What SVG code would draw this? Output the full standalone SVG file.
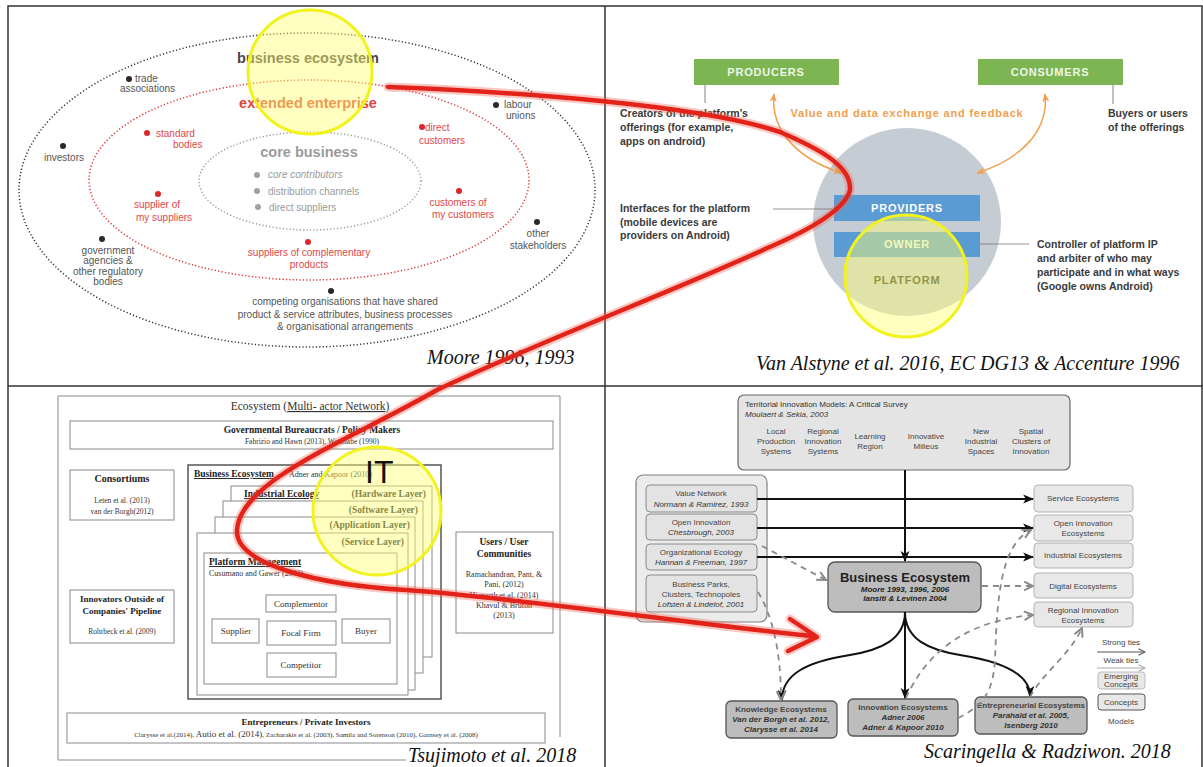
<svg xmlns="http://www.w3.org/2000/svg" width="1203" height="767" viewBox="0 0 1203 767">
<defs>
<style>
.frame{fill:none;stroke:#333;stroke-width:1.5}
.sans{font-family:'Liberation Sans',Arial,sans-serif}
.serif{font-family:'Liberation Serif','Times New Roman',serif}
.cap{font-family:'Liberation Serif','Times New Roman',serif;font-style:italic;font-size:20px;fill:#111}
.tlh{font-family:'Liberation Sans',Arial,sans-serif;font-weight:bold;font-size:14.5px;text-anchor:middle}
.tk{font-family:'Liberation Sans',Arial,sans-serif;font-size:10px;fill:#555}
.tr{font-family:'Liberation Sans',Arial,sans-serif;font-size:10px;fill:#e0474a}
.tg{font-family:'Liberation Sans',Arial,sans-serif;font-size:10px;fill:#9a9a9a}
.m{text-anchor:middle}
.e{text-anchor:end}
.dk{fill:#2e2628}
.dr{fill:#e0262b}
.dg{fill:#a0a0a0}
.trt{font-family:'Liberation Sans',Arial,sans-serif;font-weight:bold;font-size:10.5px;fill:#3a3a3a}
.bar{font-family:'Liberation Sans',Arial,sans-serif;font-weight:bold;font-size:11px;text-anchor:middle;letter-spacing:0.8px}
.bx{fill:#fff;stroke:#8a8a8a;stroke-width:1}
.bl{font-family:'Liberation Serif','Times New Roman',serif;fill:#333}
.blb{font-family:'Liberation Serif','Times New Roman',serif;fill:#222;font-weight:bold}
.br{font-family:'Liberation Sans',Arial,sans-serif;font-size:8px;fill:#444;text-anchor:middle}
.bri{font-family:'Liberation Sans',Arial,sans-serif;font-size:8px;fill:#333;font-style:italic;text-anchor:middle}
.lbox{fill:#e3e3e3;stroke:#8a8a8a;stroke-width:1}
.rbox{fill:#e8e8e8;stroke:#b2b2b2;stroke-width:1}
.dbox{fill:#bdbdbd;stroke:#555;stroke-width:1.3}
.strong{fill:none;stroke:#111;stroke-width:2}
.weak{fill:none;stroke:#8a8a8a;stroke-width:1.8;stroke-dasharray:6 5}
.yel{fill:#ffff70;fill-opacity:0.45;stroke:#f2f21e;stroke-width:3}
.orange{fill:none;stroke:#f0a04c;stroke-width:1.5}
</style>
<marker id="ab" viewBox="0 0 10 10" refX="9" refY="5" markerWidth="11" markerHeight="11" markerUnits="userSpaceOnUse" orient="auto"><path d="M0,1 L10,5 L0,9 L2.5,5z" fill="#111"/></marker>
<marker id="ag" viewBox="0 0 10 10" refX="9" refY="5" markerWidth="11" markerHeight="11" markerUnits="userSpaceOnUse" orient="auto"><path d="M1,1 L9,5 L1,9" fill="none" stroke="#8a8a8a" stroke-width="1.8"/></marker>
<marker id="ao" viewBox="0 0 10 10" refX="9" refY="5" markerWidth="9" markerHeight="9" markerUnits="userSpaceOnUse" orient="auto-start-reverse"><path d="M0,1 L10,5 L0,9 L3,5z" fill="#f0a04c"/></marker>
<marker id="al" viewBox="0 0 10 10" refX="9" refY="5" markerWidth="8" markerHeight="8" markerUnits="userSpaceOnUse" orient="auto"><path d="M1,1 L9,5 L1,9" fill="none" stroke="#555" stroke-width="1.3"/></marker>
<marker id="alw" viewBox="0 0 10 10" refX="9" refY="5" markerWidth="8" markerHeight="8" markerUnits="userSpaceOnUse" orient="auto"><path d="M1,1 L9,5 L1,9" fill="none" stroke="#aaa" stroke-width="1.3"/></marker>
</defs>
<rect width="1203" height="767" fill="#fff"/>

<g id="frame">
<path class="frame" d="M8,767 V6 H1202 V767 M605,6 V767 M8,386 H1203"/>
</g>

<!-- ===== Top-left: Moore ===== -->
<g id="moore-ellipses">
<ellipse cx="307" cy="190" rx="288" ry="157" fill="none" stroke="#333" stroke-width="1.5" stroke-dasharray="1.2 2.2"/>
<ellipse cx="309" cy="180" rx="220" ry="100" fill="none" stroke="#e03030" stroke-width="1.5" stroke-dasharray="1.2 2.2"/>
<ellipse cx="310" cy="181" rx="111" ry="49" fill="none" stroke="#999" stroke-width="1.5" stroke-dasharray="1.2 2.2"/>
<text class="tlh" x="308" y="63" fill="#4d4546">business ecosystem</text>
<text class="tlh" x="308" y="108" fill="#e2453a">extended enterprise</text>
<text class="tlh" x="309" y="157" fill="#9a9a9a">core business</text>
</g>
<g id="trade-associations"><circle class="dk" cx="129" cy="79" r="3"/><text class="tk" x="135" y="82">trade</text><text class="tk" x="120" y="92">associations</text></g>
<g id="labour-unions"><circle class="dk" cx="496" cy="105" r="3"/><text class="tk" x="504" y="108">labour</text><text class="tk" x="506" y="119">unions</text></g>
<g id="standard-bodies"><circle class="dr" cx="147" cy="133" r="3"/><text class="tr" x="156" y="137">standard</text><text class="tr" x="173" y="148">bodies</text></g>
<g id="direct-customers"><circle class="dr" cx="422" cy="127" r="3"/><text class="tr" x="425" y="131">direct</text><text class="tr" x="419" y="144">customers</text></g>
<g id="investors"><circle class="dk" cx="63" cy="146" r="3"/><text class="tk m" x="64" y="161">investors</text></g>
<g id="core-items">
<circle class="dg" cx="257" cy="175" r="3"/><text class="tg" x="268" y="178" font-style="italic">core contributors</text>
<circle class="dg" cx="257" cy="191" r="3"/><text class="tg" x="268" y="195">distribution channels</text>
<circle class="dg" cx="258" cy="207" r="3"/><text class="tg" x="269" y="211">direct suppliers</text>
</g>
<g id="supplier-of-my-suppliers"><circle class="dr" cx="158" cy="194" r="3"/><text class="tr m" x="157" y="208">supplier of</text><text class="tr m" x="164" y="221">my suppliers</text></g>
<g id="customers-of-my-customers"><circle class="dr" cx="459" cy="191" r="3"/><text class="tr m" x="458" y="206">customers of</text><text class="tr m" x="463" y="218">my customers</text></g>
<g id="other-stakeholders"><circle class="dk" cx="537" cy="222" r="3"/><text class="tk m" x="538" y="237">other</text><text class="tk m" x="538" y="249">stakeholders</text></g>
<g id="government"><circle class="dk" cx="102" cy="239" r="3"/><text class="tk m" x="108" y="254">government</text><text class="tk m" x="108" y="264">agencies &amp;</text><text class="tk m" x="108" y="275">other regulatory</text><text class="tk m" x="108" y="285">bodies</text></g>
<g id="complementary"><circle class="dr" cx="308" cy="242" r="3"/><text class="tr m" x="309" y="256">suppliers of complementary</text><text class="tr m" x="309" y="268">products</text></g>
<g id="competing"><circle class="dk" cx="331" cy="291" r="3"/><text class="tk m" x="345" y="305">competing organisations that have shared</text><text class="tk m" x="345" y="318">product &amp; service attributes, business processes</text><text class="tk m" x="345" y="330">&amp; organisational arrangements</text></g>
<g id="moore-caption"><text class="cap" x="427" y="364">Moore 1996, 1993</text></g>
<g id="hl-tl"><circle class="yel" cx="310" cy="72" r="62"/></g>

<!-- ===== Top-right: platform ===== -->
<g id="producers"><rect x="694" y="59" width="145" height="26" fill="#7db553"/><text class="bar" x="766" y="76" fill="#eef5e6">PRODUCERS</text></g>
<g id="consumers"><rect x="978" y="59" width="145" height="26" fill="#7db553"/><text class="bar" x="1050" y="76" fill="#eef5e6">CONSUMERS</text></g>
<g id="creators-text"><text class="trt" x="620" y="117">Creators of the platform’s</text><text class="trt" x="620" y="131">offerings (for example,</text><text class="trt" x="620" y="145">apps on android)</text></g>
<g id="value-text"><text class="bar" x="907" y="117" fill="#f0a04c" letter-spacing="0">Value and data exchange and feedback</text></g>
<g id="buyers-text"><text class="trt" x="1108" y="117">Buyers or users</text><text class="trt" x="1108" y="131">of the offerings</text></g>
<g id="platform-circle"><circle cx="907" cy="222" r="94" fill="#c5ccd4"/></g>
<g id="providers"><rect x="834" y="195" width="146" height="26" fill="#5b9bd3"/><text class="bar" x="907" y="212" fill="#fff">PROVIDERS</text></g>
<g id="owner"><rect x="834" y="232" width="146" height="25" fill="#5b9bd3"/><text class="bar" x="907" y="248" fill="#e8f0f0">OWNER</text></g>
<g id="platform"><text class="bar" x="907" y="284" fill="#3a3a20" font-size="11.5">PLATFORM</text></g>
<g id="interfaces-text"><text class="trt" x="620" y="212">Interfaces for the platform</text><text class="trt" x="620" y="226">(mobile devices are</text><text class="trt" x="620" y="239">providers on Android)</text></g>
<g id="controller-text"><text class="trt" x="1037" y="248">Controller of platform IP</text><text class="trt" x="1037" y="262">and arbiter of who may</text><text class="trt" x="1037" y="276">participate and in what ways</text><text class="trt" x="1037" y="290">(Google owns Android)</text></g>
<g id="va-caption"><text class="cap" x="756" y="370">Van Alstyne et al. 2016, EC DG13 &amp; Accenture 1996</text></g>
<g id="hl-tr"><circle class="yel" cx="906" cy="276" r="61"/></g>

<!-- ===== Bottom-left: Tsujimoto ===== -->
<g id="ecosystem-frame">
<path d="M560,737 V396 H58 V760 H406" fill="none" stroke="#8a8a8a" stroke-width="1"/>
<text class="bl m" x="310" y="410" font-size="11.5">Ecosystem (<tspan text-decoration="underline">Multi- actor Network</tspan>)</text>
</g>
<g id="governmental"><rect class="bx" x="70" y="421" width="483" height="28"/><text class="blb m" x="312" y="433" font-size="9.5">Governmental Bureaucrats / Policy Makers</text><text class="bl m" x="312" y="444" font-size="7.5">Fabrizio and Hawn (2013), Watanabe (1990)</text></g>
<g id="consortiums"><rect class="bx" x="70" y="470" width="104" height="50"/><text class="blb m" x="122" y="482" font-size="10">Consortiums</text><text class="bl m" x="122" y="503" font-size="7.5">Leten et al. (2013)</text><text class="bl m" x="122" y="514" font-size="7.5">van der Borgh(2012)</text></g>
<g id="business-ecosystem-bl"><rect x="188" y="465" width="253" height="234" fill="#fff" stroke="#555" stroke-width="1.5"/><text class="blb" x="194" y="477" font-size="9.5" text-decoration="underline">Business Ecosystem</text><text class="bl" x="289" y="477" font-size="8">Adner and Kapoor (2010)</text></g>
<g id="industrial-ecology"><rect class="bx" x="231" y="486" width="201" height="171"/><text class="blb" x="244" y="497" font-size="9.5" text-decoration="underline">Industrial Ecology</text><text class="blb e" x="426" y="497" font-size="9.5">(Hardware Layer)</text></g>
<g id="software-layer"><rect class="bx" x="223" y="501" width="200" height="172"/><text class="blb e" x="418" y="513" font-size="9.5">(Software Layer)</text></g>
<g id="application-layer"><rect class="bx" x="215" y="517" width="200" height="173"/><text class="blb e" x="410" y="528" font-size="9.5">(Application Layer)</text></g>
<g id="service-layer"><rect class="bx" x="197" y="533" width="211" height="162"/><text class="blb e" x="404" y="545" font-size="9.5">(Service Layer)</text></g>
<g id="platform-management"><rect class="bx" x="204" y="553" width="193" height="131"/><text class="blb" x="209" y="565" font-size="9.5" text-decoration="underline">Platform Management</text><text class="bl" x="209" y="576" font-size="8">Cusumano and Gawer (2002)</text></g>
<g id="complementor"><rect class="bx" x="266" y="595" width="70" height="17"/><text class="bl m" x="301" y="607" font-size="9">Complementor</text></g>
<g id="supplier"><rect class="bx" x="212" y="619" width="47" height="24"/><text class="bl m" x="236" y="634" font-size="9">Supplier</text></g>
<g id="focal-firm"><rect class="bx" x="267" y="621" width="69" height="24"/><text class="bl m" x="301" y="636" font-size="9">Focal Firm</text></g>
<g id="buyer"><rect class="bx" x="342" y="619" width="48" height="24"/><text class="bl m" x="366" y="634" font-size="9">Buyer</text></g>
<g id="competitor"><rect class="bx" x="267" y="653" width="69" height="24"/><text class="bl m" x="301" y="668" font-size="9">Competitor</text></g>
<g id="innovators"><rect class="bx" x="70" y="590" width="104" height="53"/><text class="blb m" x="122" y="602" font-size="9">Innovators Outside of</text><text class="blb m" x="122" y="614" font-size="9">Companies' Pipeline</text><text class="bl m" x="122" y="634" font-size="7.5">Rohrbeck et al. (2009)</text></g>
<g id="users"><rect class="bx" x="456" y="532" width="97" height="101"/><text class="blb m" x="504" y="545" font-size="9.5">Users / User</text><text class="blb m" x="504" y="557" font-size="9.5">Communities</text><text class="bl m" x="504" y="577" font-size="8">Ramachandran, Pant, &amp;</text><text class="bl m" x="504" y="587" font-size="8">Pani, (2012)</text><text class="bl m" x="504" y="598" font-size="8">Hienerth et al. (2014)</text><text class="bl m" x="504" y="608" font-size="8">Khavul &amp; Bruton</text><text class="bl m" x="504" y="618" font-size="8">(2013)</text></g>
<g id="entrepreneurs"><rect class="bx" x="67" y="713" width="478" height="30"/><text class="blb m" x="306" y="725" font-size="9">Entrepreneurs / Private Investors</text><text class="bl m" x="306" y="737" font-size="7">Clarysse et al.(2014), <tspan font-size="9">Autio et al. (2014)</tspan>, Zacharakis et al. (2003), Samila and Sorenson (2010), Garnsey et al. (2008)</text></g>
<g id="ts-caption"><text class="cap" x="408" y="762">Tsujimoto et al. 2018</text></g>
<g id="hl-it"><circle class="yel" cx="377" cy="511" r="64"/><text class="sans" x="365" y="483" font-size="32" fill="#111">IT</text></g>

<!-- ===== Bottom-right: Scaringella ===== -->
<g id="territorial"><rect x="738" y="395" width="332" height="75" rx="6" fill="#e4e4e4" stroke="#6a6a6a" stroke-width="1.2"/>
<text class="sans" x="745" y="407" font-size="8" fill="#333">Territorial Innovation Models: A Critical Survey</text>
<text class="sans" x="745" y="417" font-size="8" fill="#333" font-style="italic">Moulaert &amp; Sekia, 2003</text>
<text class="br" x="776" y="434">Local</text><text class="br" x="776" y="444">Production</text><text class="br" x="776" y="454">Systems</text>
<text class="br" x="823" y="434">Regional</text><text class="br" x="823" y="444">Innovation</text><text class="br" x="823" y="454">Systems</text>
<text class="br" x="870" y="439">Learning</text><text class="br" x="870" y="449">Region</text>
<text class="br" x="926" y="439">Innovative</text><text class="br" x="926" y="449">Milieus</text>
<text class="br" x="981" y="434">New</text><text class="br" x="981" y="444">Industrial</text><text class="br" x="981" y="454">Spaces</text>
<text class="br" x="1031" y="434">Spatial</text><text class="br" x="1031" y="444">Clusters of</text><text class="br" x="1031" y="454">Innovation</text>
</g>
<g id="models-group"><rect x="636" y="475" width="131" height="147" rx="7" fill="#ececec" stroke="#808080" stroke-width="1.2"/></g>
<g id="value-network"><rect class="lbox" x="646" y="485" width="111" height="27" rx="4"/><text class="br" x="701" y="496">Value Network</text><text class="bri" x="701" y="507">Normann &amp; Ramirez, 1993</text></g>
<g id="open-innovation"><rect class="lbox" x="646" y="514" width="111" height="26" rx="4"/><text class="br" x="701" y="525">Open Innovation</text><text class="bri" x="701" y="535">Chesbrough, 2003</text></g>
<g id="organizational-ecology"><rect class="lbox" x="646" y="544" width="111" height="26" rx="4"/><text class="br" x="701" y="555">Organizational Ecology</text><text class="bri" x="701" y="565">Hannan &amp; Freeman, 1997</text></g>
<g id="business-parks"><rect class="lbox" x="646" y="575" width="111" height="37" rx="4"/><text class="br" x="701" y="587">Business Parks,</text><text class="br" x="701" y="597">Clusters, Technopoles</text><text class="bri" x="701" y="607">Lofsten &amp; Lindelof, 2001</text></g>
<g id="business-ecosystem-br"><rect class="dbox" x="828" y="562" width="153" height="50" rx="7"/><text class="sans" x="905" y="582" font-size="13" font-weight="bold" fill="#222" text-anchor="middle">Business Ecosystem</text><text class="sans" x="905" y="592" font-size="8" font-weight="bold" font-style="italic" fill="#222" text-anchor="middle">Moore 1993, 1996, 2006</text><text class="sans" x="905" y="601" font-size="8" font-weight="bold" font-style="italic" fill="#222" text-anchor="middle">Iansiti &amp; Levinen 2004</text></g>
<g id="service-eco"><rect class="rbox" x="1034" y="485" width="99" height="27" rx="4"/><text class="br" x="1083" y="501">Service Ecosystems</text></g>
<g id="open-innovation-eco"><rect class="rbox" x="1034" y="515" width="99" height="26" rx="4"/><text class="br" x="1083" y="526">Open Innovation</text><text class="br" x="1083" y="536">Ecosystems</text></g>
<g id="industrial-eco"><rect class="rbox" x="1034" y="543" width="99" height="25" rx="4"/><text class="br" x="1083" y="558">Industrial Ecosystems</text></g>
<g id="digital-eco"><rect class="rbox" x="1034" y="573" width="99" height="25" rx="4"/><text class="br" x="1083" y="589">Digital Ecosystems</text></g>
<g id="regional-eco"><rect class="rbox" x="1034" y="602" width="99" height="25" rx="4"/><text class="br" x="1083" y="613">Regional Innovation</text><text class="br" x="1083" y="623">Ecosystems</text></g>
<g id="knowledge-eco"><rect class="dbox" x="726" y="701" width="111" height="37" rx="5"/><text class="br" x="781" y="712" font-weight="bold" fill="#222">Knowledge Ecosystems</text><text class="bri" x="781" y="722" font-weight="bold" fill="#222">Van der Borgh et al. 2012,</text><text class="bri" x="781" y="732" font-weight="bold" fill="#222">Clarysse et al. 2014</text></g>
<g id="innovation-eco"><rect class="dbox" x="848" y="699" width="110" height="37" rx="5"/><text class="br" x="903" y="710" font-weight="bold" fill="#222">Innovation Ecosystems</text><text class="bri" x="903" y="720" font-weight="bold" fill="#222">Adner 2006</text><text class="bri" x="903" y="730" font-weight="bold" fill="#222">Adner &amp; Kapoor 2010</text></g>
<g id="entrepreneurial-eco"><rect class="dbox" x="975" y="697" width="112" height="37" rx="5"/><text class="br" x="1031" y="708" font-weight="bold" fill="#222">Entrepreneurial Ecosystems</text><text class="bri" x="1031" y="718" font-weight="bold" fill="#222">Parahald et al. 2005,</text><text class="bri" x="1031" y="728" font-weight="bold" fill="#222">Isenberg 2010</text></g>
<g id="legend">
<text class="br" x="1121" y="645" font-size="7" fill="#555">Strong ties</text>
<line x1="1097" y1="652" x2="1145" y2="652" stroke="#555" stroke-width="1.2" marker-end="url(#al)"/>
<text class="br" x="1121" y="663" font-size="7" fill="#777">Weak ties</text>
<line x1="1097" y1="668" x2="1145" y2="668" stroke="#aaa" stroke-width="1.2" marker-end="url(#alw)"/>
<rect x="1098" y="672" width="47" height="17" rx="3" fill="#e8e8e8" stroke="#bbb"/>
<text class="br" x="1121" y="679" font-size="7" fill="#555">Emerging</text><text class="br" x="1121" y="687" font-size="7" fill="#555">Concepts</text>
<rect x="1098" y="694" width="47" height="16" rx="3" fill="#e8e8e8" stroke="#555"/>
<text class="br" x="1121" y="705" font-size="7" fill="#555">Concepts</text>
<text class="br" x="1121" y="724" font-size="7" fill="#555">Models</text>
</g>
<g id="sr-caption"><text class="cap" x="924" y="758">Scaringella &amp; Radziwon. 2018</text></g>

<!-- ===== Connectors ===== -->
<g id="connectors">
<line x1="705" y1="85" x2="705" y2="103" stroke="#666" stroke-width="0.8"/>
<line x1="1113" y1="85" x2="1113" y2="104" stroke="#666" stroke-width="0.8"/>
<line x1="773" y1="209" x2="834" y2="209" stroke="#777" stroke-width="0.8"/>
<line x1="980" y1="244" x2="1029" y2="244" stroke="#777" stroke-width="0.8"/>
<path class="orange" d="M774,94 C770,132 800,160 842,173" marker-start="url(#ao)" marker-end="url(#ao)"/>
<path class="orange" d="M1045,94 C1049,132 1019,160 977,173" marker-start="url(#ao)" marker-end="url(#ao)"/>

<path class="strong" d="M905,470 L905,561" marker-end="url(#ab)"/>
<path class="strong" d="M757,499 L1033,499" marker-end="url(#ab)"/>
<path class="strong" d="M757,528 L1033,528" marker-end="url(#ab)"/>
<path class="strong" d="M757,557 L1033,557" marker-end="url(#ab)"/>
<path class="strong" d="M905,612 L905,698" marker-end="url(#ab)"/>
<path class="strong" d="M905,612 C905,640 880,650 850,655 C805,662 782,675 782,700" marker-end="url(#ab)"/>
<path class="strong" d="M905,612 C905,640 930,650 960,655 C1005,662 1030,675 1030,696" marker-end="url(#ab)"/>

<path class="weak" d="M762,546 L826,580" marker-end="url(#ag)"/>
<path class="weak" d="M758,592 C772,615 781,650 781,700" marker-end="url(#ag)"/>
<path class="weak" d="M982,586 L1033,586" marker-end="url(#ag)"/>
<path class="weak" d="M906,698 C930,645 975,620 1033,615" marker-end="url(#ag)"/>
<path class="weak" d="M958,718 C985,705 993,690 995,660 C997,600 1000,545 1031,530" marker-end="url(#ag)"/>
<path class="weak" d="M1030,697 C1045,670 1070,655 1082,628" marker-end="url(#ag)"/>

<g id="red-link">
<path d="M388,87 C520,92 700,105 780,132 C815,147 852,165 850,190 C845,210 810,230 765,249 C700,280 520,350 437,390 C350,440 240,480 237,530 C235,565 320,585 406,590 C520,598 700,625 812,636" fill="none" stroke="#f06050" stroke-opacity="0.35" stroke-width="9" stroke-linecap="round"/>
<polyline points="790,619 817,637 788,651" fill="none" stroke="#f06050" stroke-opacity="0.35" stroke-width="9" stroke-linecap="round" stroke-linejoin="round"/>
<path d="M388,87 C520,92 700,105 780,132 C815,147 852,165 850,190 C845,210 810,230 765,249 C700,280 520,350 437,390 C350,440 240,480 237,530 C235,565 320,585 406,590 C520,598 700,625 812,636" fill="none" stroke="#e3231a" stroke-width="4.5" stroke-linecap="round"/>
<polyline points="790,619 817,637 788,651" fill="none" stroke="#e3231a" stroke-width="4.5" stroke-linecap="round" stroke-linejoin="round"/>
</g>
</g>
</svg>
